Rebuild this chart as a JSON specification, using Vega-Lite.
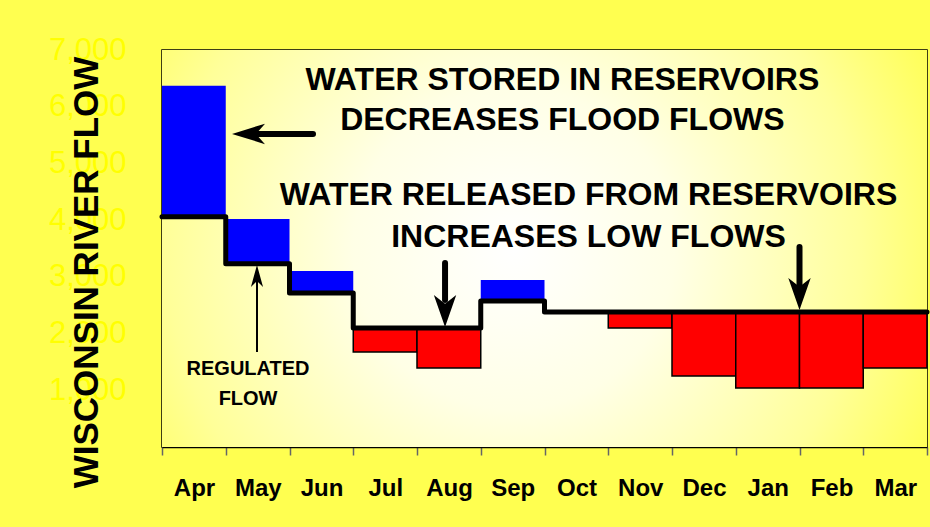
{
  "$schema": "https://vega.github.io/schema/vega-lite/v6.json",
  "width": 765,
  "height": 397,
  "autosize": {"type": "none"},
  "padding": {"left": 162, "top": 50, "right": 3, "bottom": 80},
  "background": "#ffff50",
  "config": {
    "font": "Liberation Sans",
    "view": {"stroke": "#000000", "strokeWidth": 1.5}
  },
  "datasets": {
    "months": [
      {"month": "Apr", "start": 0, "end": 1, "regulated": 4060, "natural": 6370},
      {"month": "May", "start": 1, "end": 2, "regulated": 3230, "natural": 4020},
      {"month": "Jun", "start": 2, "end": 3, "regulated": 2716, "natural": 3104},
      {"month": "Jul", "start": 3, "end": 4, "regulated": 2099, "natural": 1675},
      {"month": "Aug", "start": 4, "end": 5, "regulated": 2099, "natural": 1393},
      {"month": "Sep", "start": 5, "end": 6, "regulated": 2575, "natural": 2945},
      {"month": "Oct", "start": 6, "end": 7, "regulated": 2381, "natural": 2381},
      {"month": "Nov", "start": 7, "end": 8, "regulated": 2381, "natural": 2099},
      {"month": "Dec", "start": 8, "end": 9, "regulated": 2381, "natural": 1252},
      {"month": "Jan", "start": 9, "end": 10, "regulated": 2381, "natural": 1041},
      {"month": "Feb", "start": 10, "end": 11, "regulated": 2381, "natural": 1041},
      {"month": "Mar", "start": 11, "end": 12, "regulated": 2381, "natural": 1393}
    ],
    "regline": [
      {"t": 0, "flow": 4060}, {"t": 1, "flow": 3230}, {"t": 2, "flow": 2716},
      {"t": 3, "flow": 2099}, {"t": 4, "flow": 2099}, {"t": 5, "flow": 2575},
      {"t": 6, "flow": 2381}, {"t": 7, "flow": 2381}, {"t": 8, "flow": 2381},
      {"t": 9, "flow": 2381}, {"t": 10, "flow": 2381}, {"t": 11, "flow": 2381},
      {"t": 12, "flow": 2381}
    ],
    "notes": [
      {"x": 6.28, "y": 6290, "text": "WATER STORED IN RESERVOIRS"},
      {"x": 6.28, "y": 5585, "text": "DECREASES FLOOD FLOWS"},
      {"x": 6.69, "y": 4275, "text": "WATER RELEASED FROM RESERVOIRS"},
      {"x": 6.69, "y": 3530, "text": "INCREASES LOW FLOWS"}
    ],
    "smallnotes": [
      {"x": 1.35, "y": 1270, "text": "REGULATED"},
      {"x": 1.35, "y": 741, "text": "FLOW"}
    ],
    "thickShafts": [
      {"x": 1.506, "x2": 2.369, "y": 5520, "y2": 5520},
      {"x": 4.44, "x2": 4.44, "y": 2593, "y2": 3245},
      {"x": 10.0, "x2": 10.0, "y": 2857, "y2": 3527}
    ],
    "thinShaft": [
      {"x": 1.49, "x2": 1.49, "y": 2945, "y2": 1675}
    ],
    "leftHead": [{"x": 1.357, "y": 5520}],
    "upHead": [{"x": 1.49, "y": 3016}],
    "downHeads": [{"x": 4.44, "y": 2399}, {"x": 10.0, "y": 2698}]
  },
  "layer": [
    {
      "data": {"values": [{}]},
      "mark": {
        "type": "rect",
        "fill": {
          "gradient": "radial",
          "x1": 0.46, "y1": 0.5, "r1": 0,
          "x2": 0.46, "y2": 0.5, "r2": 0.7,
          "stops": [
            {"offset": 0, "color": "#ffffff"},
            {"offset": 0.3, "color": "#ffffe6"},
            {"offset": 0.65, "color": "#ffff99"},
            {"offset": 1, "color": "#ffff2a"}
          ]
        }
      },
      "encoding": {}
    },
    {
      "data": {"name": "months"},
      "transform": [{"filter": "datum.natural > datum.regulated"}],
      "mark": {"type": "rect", "color": "#0000ff"},
      "encoding": {
        "x": {
          "field": "start", "type": "quantitative",
          "scale": {"domain": [0, 12], "nice": false, "zero": false},
          "axis": {
            "values": [0, 1, 2, 3, 4, 5, 6, 7, 8, 9, 10, 11, 12],
            "labelExpr": "['Apr','May','Jun','Jul','Aug','Sep','Oct','Nov','Dec','Jan','Feb','Mar',''][datum.value]",
            "labelOffset": 32,
            "labelOverlap": false,
            "labelFlush": false,
            "labelBound": false,
            "labelFontSize": 24,
            "labelFontWeight": "bold",
            "labelColor": "#000000",
            "labelPadding": 21,
            "tickSize": 8,
            "tickColor": "#666666",
            "tickWidth": 1.5,
            "domainColor": "#000000",
            "domainWidth": 1.5,
            "grid": false,
            "title": null
          }
        },
        "x2": {"field": "end"},
        "y": {
          "field": "regulated", "type": "quantitative",
          "scale": {"domain": [0, 7000], "nice": false},
          "axis": {
            "values": [1000, 2000, 3000, 4000, 5000, 6000, 7000],
            "format": ",d",
            "labelFontSize": 31,
            "labelColor": "#ffff00",
            "labelPadding": 36,
            "ticks": false,
            "domain": false,
            "grid": false,
            "title": "WISCONSIN RIVER FLOW",
            "titleFontSize": 35,
            "titleFontWeight": "bold",
            "titleColor": "#000000",
            "titleAngle": -90,
            "titleX": -65,
            "titleY": 222,
            "titleAlign": "center",
            "titleBaseline": "alphabetic"
          }
        },
        "y2": {"field": "natural"}
      }
    },
    {
      "data": {"name": "months"},
      "transform": [{"filter": "datum.natural < datum.regulated"}],
      "mark": {"type": "rect", "fill": "#ff0000", "stroke": "#000000", "strokeWidth": 1.5},
      "encoding": {
        "x": {"field": "start", "type": "quantitative"},
        "x2": {"field": "end"},
        "y": {"field": "regulated", "type": "quantitative"},
        "y2": {"field": "natural"}
      }
    },
    {
      "data": {"name": "regline"},
      "mark": {"type": "line", "interpolate": "step-after", "color": "#000000", "strokeWidth": 5, "strokeJoin": "round", "strokeCap": "round"},
      "encoding": {
        "x": {"field": "t", "type": "quantitative"},
        "y": {"field": "flow", "type": "quantitative"}
      }
    },
    {
      "data": {"name": "thickShafts"},
      "mark": {"type": "rule", "color": "#000000", "strokeWidth": 6, "strokeCap": "round"},
      "encoding": {
        "x": {"field": "x", "type": "quantitative"},
        "x2": {"field": "x2"},
        "y": {"field": "y", "type": "quantitative"},
        "y2": {"field": "y2"}
      }
    },
    {
      "data": {"name": "thinShaft"},
      "mark": {"type": "rule", "color": "#000000", "strokeWidth": 2},
      "encoding": {
        "x": {"field": "x", "type": "quantitative"},
        "x2": {"field": "x2"},
        "y": {"field": "y", "type": "quantitative"},
        "y2": {"field": "y2"}
      }
    },
    {
      "data": {"name": "leftHead"},
      "mark": {"type": "point", "filled": true, "color": "#000000", "opacity": 1, "shape": "M-1,0L1,-0.62L0.45,0L1,0.62Z", "size": 1089},
      "encoding": {
        "x": {"field": "x", "type": "quantitative"},
        "y": {"field": "y", "type": "quantitative"}
      }
    },
    {
      "data": {"name": "upHead"},
      "mark": {"type": "point", "filled": true, "color": "#000000", "opacity": 1, "shape": "M0,-1L-0.55,1L0,0.45L0.55,1Z", "size": 484},
      "encoding": {
        "x": {"field": "x", "type": "quantitative"},
        "y": {"field": "y", "type": "quantitative"}
      }
    },
    {
      "data": {"name": "downHeads"},
      "mark": {"type": "point", "filled": true, "color": "#000000", "opacity": 1, "shape": "M0,1L-0.7,-1L0,-0.45L0.7,-1Z", "size": 1024},
      "encoding": {
        "x": {"field": "x", "type": "quantitative"},
        "y": {"field": "y", "type": "quantitative"}
      }
    },
    {
      "data": {"name": "notes"},
      "mark": {"type": "text", "fontSize": 32, "fontWeight": "bold", "color": "#000000", "align": "center", "baseline": "alphabetic"},
      "encoding": {
        "x": {"field": "x", "type": "quantitative"},
        "y": {"field": "y", "type": "quantitative"},
        "text": {"field": "text"}
      }
    },
    {
      "data": {"name": "smallnotes"},
      "mark": {"type": "text", "fontSize": 20, "fontWeight": "bold", "color": "#000000", "align": "center", "baseline": "alphabetic"},
      "encoding": {
        "x": {"field": "x", "type": "quantitative"},
        "y": {"field": "y", "type": "quantitative"},
        "text": {"field": "text"}
      }
    }
  ]
}
